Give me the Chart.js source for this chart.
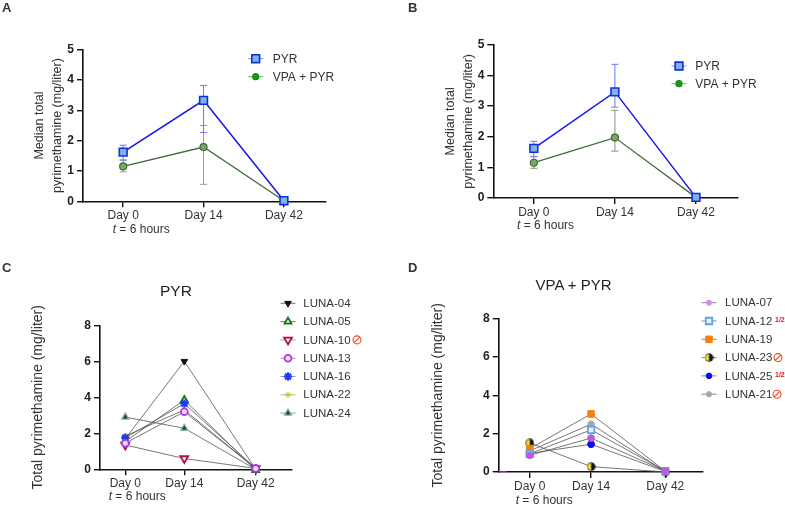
<!DOCTYPE html>
<html>
<head>
<meta charset="utf-8">
<title>Pyrimethamine</title>
<script src="https://cdn.jsdelivr.net/npm/chart.js@4"></script>
<style>
  html, body { margin: 0; padding: 0; background: #fff; overflow: hidden; }
  #page { position: relative; width: 785px; height: 506px; font-family: "Liberation Sans", Arial, sans-serif; }
  #page canvas { position: absolute; }
  .txt { position: absolute; white-space: nowrap; color: #333; transform: translateY(-50%); line-height: 1; }
</style>
</head>
<body>
<div id="page"></div>
<script>
// ── Data ─────────────────────────────────────────────
const days = ["Day 0", "Day 14", "Day 42"];
const daysEven = [0, 1, 2];
const daysStretched = [0, 1, 2.21];

const medianPyrA = [1.62, 3.33, 0.02];
const lowPyrA = [1.36, 2.27];
const highPyrA = [1.85, 3.82];
const medianVpaA = [1.15, 1.79, 0.02];
const lowVpaA = [0.97, 0.56];
const highVpaA = [1.36, 2.5];

const medianPyrB = [1.62, 3.46, 0.02];
const lowPyrB = [1.35, 2.96];
const highPyrB = [1.85, 4.36];
const medianVpaB = [1.15, 1.97, 0.02];
const lowVpaB = [0.97, 1.53];
const highVpaB = [1.35, 2.86];

const luna04 = [1.7, 6, 0];
const luna05 = [1.55, 3.85, -0.05];
const luna10 = [1.35, 0.6, 0.05];
const luna13 = [1.45, 3.2, 0.05];
const luna16 = [1.75, 3.65, 0.05];
const luna22 = [1.85, 3.3, 0.05];
const luna24 = [2.9, 2.28, 0];

const luna07 = [0.87, 1.77, 0.05];
const luna12 = [0.95, 2.2, 0.05];
const luna19 = [1.22, 3.03, 0.05];
const luna23 = [1.52, 0.28, 0];
const luna25 = [0.97, 1.45, 0.03];
const luna21 = [1.1, 2.5, 0.03];

// the little magenta stub lying on the D baseline
const stubD = [0, 0];
const stubDays = [-0.506, -0.38];

// ── Helpers ──────────────────────────────────────────
Chart.defaults.font.family = "'Liberation Sans', Arial, sans-serif";
Chart.defaults.animation = false;

const page = document.getElementById("page");

function addText(html, x, y, css) {
    const el = document.createElement("div");
    el.className = "txt";
    el.innerHTML = html;
    el.style.cssText = "left:" + x + "px;top:" + y + "px;" + css;
    page.appendChild(el);
}

function halfCircle() {
    const c = document.createElement("canvas");
    c.width = 9; c.height = 9;
    const g = c.getContext("2d");
    g.beginPath(); g.arc(4.5, 4.5, 3.9, Math.PI / 2, Math.PI * 1.5); g.fillStyle = "#f5e61a"; g.fill();
    g.beginPath(); g.arc(4.5, 4.5, 3.9, -Math.PI / 2, Math.PI / 2); g.fillStyle = "#111"; g.fill();
    g.beginPath(); g.arc(4.5, 4.5, 3.9, 0, Math.PI * 2); g.strokeStyle = "#222"; g.lineWidth = 0.7; g.stroke();
    return c;
}

function series(label, values, xs, style) {
    return Object.assign({
        label: label,
        data: values.map((v, i) => ({ x: xs[i], y: v })),
        clip: false,
        tension: 0,
        fill: false,
        borderColor: "#555",
        borderWidth: 0.8,
        pointBorderWidth: 1.8,
        pointRadius: 4,
    }, style);
}

// vertical whisker with caps, each cap is a "line" point
function whiskers(low, high, xs, color, order, capHalf) {
    const data = [];
    low.forEach((v, i) => {
        data.push({ x: xs[i], y: v }, { x: xs[i], y: high[i] }, { x: xs[i], y: null });
    });
    return {
        data: data,
        clip: false,
        order: order,
        borderColor: color,
        borderWidth: 1,
        pointStyle: "line",
        pointRadius: capHalf,
        pointBorderColor: color,
        pointBorderWidth: 1,
        spanGaps: false,
    };
}

// legend is laid over the plot, the built-in one always pushes the plot aside
// coordinates in opts are page coordinates
const overlayLegend = {
    id: "overlayLegend",
    afterDraw(chart, args, opts) {
        const ctx = chart.ctx;
        let row = 0;
        chart.data.datasets.forEach((ds) => {
            if (!ds.label) return;
            const y = opts.y + row * opts.step;
            ctx.save();
            ctx.translate(-chart.canvas.offsetLeft, -chart.canvas.offsetTop);
            ctx.strokeStyle = ds.legendLine || "#888";
            ctx.lineWidth = 1;
            ctx.beginPath();
            ctx.moveTo(opts.x - 7.5, y);
            ctx.lineTo(opts.x + 7.5, y);
            ctx.stroke();
            ctx.fillStyle = ds.legendFill || ds.pointBackgroundColor || "#000";
            ctx.strokeStyle = ds.legendStroke || ds.pointBorderColor || "#000";
            ctx.lineWidth = ds.pointBorderWidth;
            Chart.helpers.drawPoint(ctx, {
                pointStyle: ds.pointStyle,
                rotation: ds.pointRotation || 0,
                radius: ds.legendRadius || ds.pointRadius,
                borderWidth: ds.pointBorderWidth,
            }, opts.x, y);
            ctx.fillStyle = "#333";
            ctx.font = opts.size + "px 'Liberation Sans', Arial, sans-serif";
            ctx.textBaseline = "middle";
            ctx.textAlign = "left";
            ctx.fillText(ds.label, opts.textX, y + 0.5);
            if (ds.noSign) {
                ctx.strokeStyle = "#f2481e";
                ctx.lineWidth = 1.1;
                ctx.beginPath();
                ctx.arc(ds.noSign, y, 4, 0, Math.PI * 2);
                ctx.moveTo(ds.noSign - 2.8, y + 2.8);
                ctx.lineTo(ds.noSign + 2.8, y - 2.8);
                ctx.stroke();
            }
            if (ds.half) {
                ctx.fillStyle = "#f01010";
                ctx.font = "bold 7px 'Liberation Sans', Arial, sans-serif";
                ctx.fillText("1/2", ds.half, y - 0.5);
            }
            ctx.restore();
            row++;
        });
    },
};

function panel(cfg) {
    const canvas = document.createElement("canvas");
    canvas.width = cfg.w;
    canvas.height = cfg.h;
    canvas.style.left = cfg.left + "px";
    canvas.style.top = cfg.top + "px";
    canvas.style.width = cfg.w + "px";
    canvas.style.height = cfg.h + "px";
    page.appendChild(canvas);

    new Chart(canvas, {
        type: "line",
        data: { datasets: cfg.datasets },
        plugins: [overlayLegend],
        options: {
            responsive: false,
            layout: {
                padding: {
                    left: 0, bottom: 0,
                    top: cfg.areaTop - cfg.top,
                    right: cfg.left + cfg.w - cfg.areaRight,
                },
            },
            plugins: {
                legend: { display: false },
                tooltip: { enabled: false },
                overlayLegend: cfg.legend,
            },
            scales: {
                x: {
                    type: "linear",
                    min: cfg.xMin,
                    max: cfg.xMax,
                    afterBuildTicks(s) { s.ticks = cfg.xs.map((v) => ({ value: v })); },
                    afterFit(s) { s.height = cfg.top + cfg.h - cfg.areaBottom; },
                    border: { color: "#111", width: 1.6 },
                    grid: { drawOnChartArea: false, color: "#111", lineWidth: 1.4, tickLength: 6 },
                    ticks: {
                        autoSkip: false,
                        maxRotation: 0,
                        padding: 1,
                        color: "#333",
                        font: { size: 12 },
                        callback: (v) => days[cfg.xs.indexOf(v)],
                    },
                },
                y: {
                    min: 0,
                    max: cfg.yMax,
                    afterFit(s) { s.width = cfg.areaLeft - cfg.left; },
                    border: { color: "#111", width: 1.6 },
                    grid: { drawOnChartArea: false, color: "#111", lineWidth: 1.4, tickLength: 6 },
                    ticks: {
                        stepSize: cfg.yStep,
                        padding: 3,
                        color: "#222",
                        font: { size: 12, weight: "bold" },
                    },
                    title: {
                        display: true,
                        text: cfg.yTitle,
                        color: "#333",
                        font: { size: cfg.titleSize, lineHeight: cfg.titleLine },
                        padding: { top: cfg.titlePad, bottom: 0 },
                    },
                },
            },
        },
    });
}

// ── Panels A and B ───────────────────────────────────
const pyrLine = {
    borderColor: "#1414f0", borderWidth: 1.5, pointStyle: "rect", pointRadius: 5.5,
    pointBackgroundColor: "#7fb2e6", pointBorderColor: "#1030e0", pointBorderWidth: 1.6,
    legendLine: "#7f8cf2", order: 1,
};
const vpaLine = {
    borderColor: "#3e6b38", borderWidth: 1.3, pointStyle: "circle", pointRadius: 3.5,
    pointBackgroundColor: "#7aa860", pointBorderColor: "#3e6b38", pointBorderWidth: 1.2,
    legendLine: "#73b073", legendFill: "#1a9a1a", legendStroke: "#0f8a1a", legendRadius: 3, order: 2,
};

panel({
    left: 0, top: 0, w: 392, h: 250,
    areaLeft: 83, areaRight: 325.7, areaTop: 49.7, areaBottom: 201.3,
    xs: daysEven, xMin: -0.5, xMax: 2.52, yMax: 5, yStep: 1,
    yTitle: ["Median total", "pyrimethamine (mg/liter)"], titleSize: 12.5, titleLine: 1.4, titlePad: 31,
    legend: { x: 255.7, y: 58.7, step: 18, textX: 272.7, size: 12 },
    datasets: [
        series("PYR", medianPyrA, daysEven, pyrLine),
        series("VPA + PYR", medianVpaA, daysEven, vpaLine),
        whiskers(lowPyrA, highPyrA, daysEven, "#6f78f0", 3, 3.5),
        whiskers(lowVpaA, highVpaA, daysEven, "#8ea286", 4, 3.5),
    ],
});

panel({
    left: 392, top: 0, w: 393, h: 250,
    areaLeft: 493.3, areaRight: 737.3, areaTop: 44.7, areaBottom: 198,
    xs: daysEven, xMin: -0.5, xMax: 2.51, yMax: 5, yStep: 1,
    yTitle: ["Median total", "pyrimethamine (mg/liter)"], titleSize: 12.5, titleLine: 1.4, titlePad: 50,
    legend: { x: 679, y: 66, step: 17.7, textX: 695.3, size: 12 },
    datasets: [
        series("PYR", medianPyrB, daysEven, pyrLine),
        series("VPA + PYR", medianVpaB, daysEven, vpaLine),
        whiskers(lowPyrB, highPyrB, daysEven, "#6f78f0", 3, 3.5),
        whiskers(lowVpaB, highVpaB, daysEven, "#7f9578", 4, 3.5),
    ],
});

// ── Panels C and D ───────────────────────────────────
panel({
    left: 0, top: 250, w: 392, h: 256,
    areaLeft: 100, areaRight: 291.7, areaTop: 325.3, areaBottom: 469.3,
    xs: daysStretched, xMin: -0.429, xMax: 2.82, yMax: 8, yStep: 2,
    yTitle: "Total pyrimethamine (mg/liter)", titleSize: 14, titleLine: 1.2, titlePad: 30,
    legend: { x: 288, y: 303.3, step: 18.3, textX: 303.3, size: 11.5 },
    datasets: [
        series("LUNA-04", luna04, daysStretched, { pointStyle: "triangle", pointRotation: 180, pointRadius: 3.8, pointBackgroundColor: "#111", pointBorderColor: "#111", pointBorderWidth: 1, legendLine: "#777", order: 6 }),
        series("LUNA-05", luna05, daysStretched, { pointStyle: "triangle", pointRadius: 4, pointBackgroundColor: "#dff0df", pointBorderColor: "#0d7a1a", legendLine: "#777", order: 3 }),
        series("LUNA-10", luna10, daysStretched, { pointStyle: "triangle", pointRotation: 180, pointRadius: 4.5, pointBackgroundColor: "#f3e6ea", pointBorderColor: "#b01040", legendLine: "#aaa", noSign: 357, order: 4 }),
        series("LUNA-13", luna13, daysStretched, { pointStyle: "circle", pointRadius: 3.4, pointBackgroundColor: "#eedcf8", pointBorderColor: "#b038e0", legendLine: "#bb88dd", order: 0 }),
        series("LUNA-16", luna16, daysStretched, { pointStyle: "star", pointRadius: 4.2, pointBackgroundColor: "#1a3cf0", pointBorderColor: "#1a3cf0", pointBorderWidth: 2, legendLine: "#8899ee", order: 1 }),
        series("LUNA-22", luna22, daysStretched, { pointStyle: "star", pointRadius: 3.2, pointBackgroundColor: "#c9c21a", pointBorderColor: "#c9c21a", pointBorderWidth: 1, legendLine: "#aaa", order: 2 }),
        series("LUNA-24", luna24, daysStretched, { pointStyle: "triangle", pointRadius: 4, pointBackgroundColor: "#2a3a38", pointBorderColor: "#7fb09f", pointBorderWidth: 1.3, legendLine: "#999", order: 7 }),
    ],
});

panel({
    left: 392, top: 250, w: 393, h: 256,
    areaLeft: 498.7, areaRight: 702.7, areaTop: 318.7, areaBottom: 472,
    xs: daysStretched, xMin: -0.506, xMax: 2.82, yMax: 8, yStep: 2,
    yTitle: "Total pyrimethamine (mg/liter)", titleSize: 14, titleLine: 1.2, titlePad: 38,
    legend: { x: 709, y: 302.7, step: 18.3, textX: 725, size: 11.5 },
    datasets: [
        series("LUNA-07", luna07, daysStretched, { pointStyle: "circle", pointRadius: 3.4, pointBackgroundColor: "#b65fd8", pointBorderColor: "#b65fd8", pointBorderWidth: 1, legendFill: "#d88af0", legendStroke: "#d88af0", legendRadius: 2.6, legendLine: "#888", order: 0 }),
        series("LUNA-12", luna12, daysStretched, { pointStyle: "rect", pointRadius: 4.6, pointBackgroundColor: "#eaf3fd", pointBorderColor: "#58a4f0", legendLine: "#888", half: 775, order: 1 }),
        series("LUNA-19", luna19, daysStretched, { pointStyle: "rect", pointRadius: 4.6, pointBackgroundColor: "#f77f0a", pointBorderColor: "#f77f0a", pointBorderWidth: 1, legendLine: "#888", order: 2 }),
        series("LUNA-23", luna23, daysStretched, { pointStyle: halfCircle(), pointRadius: 5, legendLine: "#888", noSign: 778, order: 3 }),
        series("LUNA-25", luna25, daysStretched, { pointStyle: "circle", pointRadius: 3.4, pointBackgroundColor: "#0a0af0", pointBorderColor: "#0a0af0", pointBorderWidth: 1, legendRadius: 2.8, legendLine: "#888", half: 775, order: 4 }),
        series("LUNA-21", luna21, daysStretched, { pointStyle: "circle", pointRadius: 3.2, pointBackgroundColor: "#a8a8a8", pointBorderColor: "#a8a8a8", pointBorderWidth: 1, legendRadius: 2.6, legendLine: "#888", noSign: 777, order: 5 }),
        series(null, stubD, stubDays, { borderColor: "#c050d0", borderWidth: 1.2, pointRadius: 0, order: 8 }),
    ],
});

// ── Text over the panels ─────────────────────────────
const letter = "font-size:13px;font-weight:bold;color:#333;";
addText("A", 2, 7, letter);
addText("B", 408, 7, letter);
addText("C", 2, 267, letter);
addText("D", 408, 267, letter);

const sub = "font-size:12px;";
addText("<i>t</i> = 6 hours", 112.7, 228.7, sub);
addText("<i>t</i> = 6 hours", 517, 225, sub);
addText("<i>t</i> = 6 hours", 108.7, 496, sub);
addText("<i>t</i> = 6 hours", 515.7, 500, sub);

addText("PYR", 160, 291, "font-size:15.5px;color:#222;");
addText("VPA + PYR", 535.5, 284.3, "font-size:15px;color:#222;");
</script>
</body>
</html>
